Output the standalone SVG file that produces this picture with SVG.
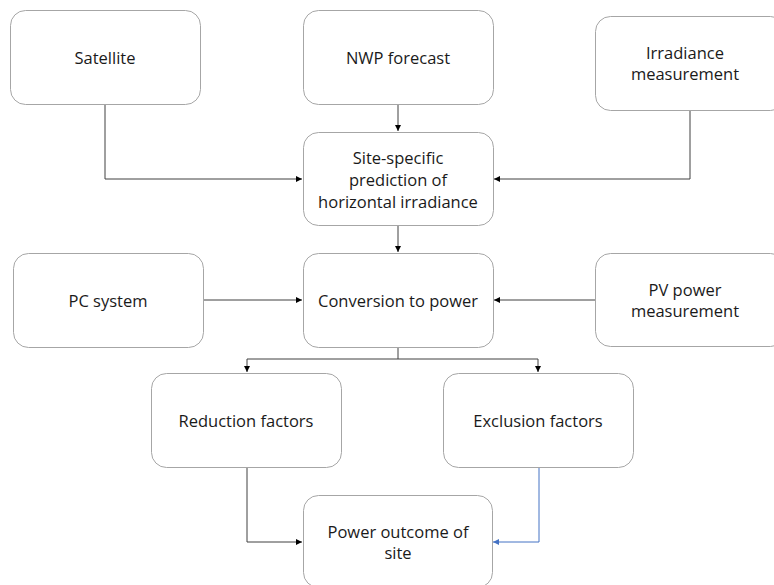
<svg xmlns="http://www.w3.org/2000/svg" width="774" height="585" viewBox="0 0 774 585">
<style>
.box{fill:#fff;stroke:#a6a6a6;stroke-width:1}
.t{font-family:"Open Sans","Liberation Sans",sans-serif;font-size:16.5px;fill:#1a1a1a;text-anchor:middle}
.c{fill:none;stroke:#404040;stroke-width:1}
.cb{fill:none;stroke:#4472c4;stroke-width:1}
</style>
<defs>
<marker id="a" markerWidth="7" markerHeight="7" refX="6" refY="3.5" orient="auto" markerUnits="userSpaceOnUse"><path d="M0,0.5 L6,3.5 L0,6.5 Z" fill="#000"/></marker>
<marker id="ab" markerWidth="7" markerHeight="7" refX="6" refY="3.5" orient="auto" markerUnits="userSpaceOnUse"><path d="M0,0.5 L6,3.5 L0,6.5 Z" fill="#4472c4"/></marker>
</defs>
<rect width="774" height="585" fill="#fff"/>
<g id="connectors">
<path class="c" d="M105,104 V179 H302" marker-end="url(#a)"/>
<path class="c" d="M398,104 V131" marker-end="url(#a)"/>
<path class="c" d="M690,110 V179 H494" marker-end="url(#a)"/>
<path class="c" d="M398,225 V252" marker-end="url(#a)"/>
<path class="c" d="M203,300 H302" marker-end="url(#a)"/>
<path class="c" d="M595,300 H494" marker-end="url(#a)"/>
<path class="c" d="M398,347 V359 H247 V372" marker-end="url(#a)"/>
<path class="c" d="M398,359 H538 V372" marker-end="url(#a)"/>
<path class="c" d="M247,467 V542 H302" marker-end="url(#a)"/>
<path class="cb" d="M539,467 V542 H493" marker-end="url(#ab)"/>
</g>
<g id="satellite"><rect class="box" x="10.5" y="10.5" width="190" height="94" rx="15"/><text class="t" x="105" y="64">Satellite</text></g>
<g id="nwp"><rect class="box" x="303.5" y="10.5" width="190" height="94" rx="15"/><text class="t" x="398" y="64">NWP forecast</text></g>
<g id="irradiance"><rect class="box" x="595.5" y="16.5" width="190" height="94" rx="15"/><text class="t" x="685" y="59">Irradiance</text><text class="t" x="685" y="80">measurement</text></g>
<g id="site"><rect class="box" x="303.5" y="132.5" width="190" height="93" rx="15"/><text class="t" x="398" y="164">Site-specific</text><text class="t" x="398" y="186">prediction of</text><text class="t" x="398" y="208">horizontal irradiance</text></g>
<g id="pc"><rect class="box" x="13.5" y="253.5" width="190" height="94" rx="15"/><text class="t" x="108" y="307">PC system</text></g>
<g id="conversion"><rect class="box" x="303.5" y="253.5" width="190" height="94" rx="15"/><text class="t" x="398" y="307">Conversion to power</text></g>
<g id="pv"><rect class="box" x="595.5" y="253.5" width="190" height="93" rx="15"/><text class="t" x="685" y="296">PV power</text><text class="t" x="685" y="317">measurement</text></g>
<g id="reduction"><rect class="box" x="151.5" y="373.5" width="190" height="94" rx="15"/><text class="t" x="246" y="427">Reduction factors</text></g>
<g id="exclusion"><rect class="box" x="443.5" y="373.5" width="190" height="94" rx="15"/><text class="t" x="538" y="427">Exclusion factors</text></g>
<g id="outcome"><rect class="box" x="303.5" y="495.5" width="189" height="92" rx="15"/><text class="t" x="398" y="538">Power outcome of</text><text class="t" x="398" y="559">site</text></g>
</svg>
